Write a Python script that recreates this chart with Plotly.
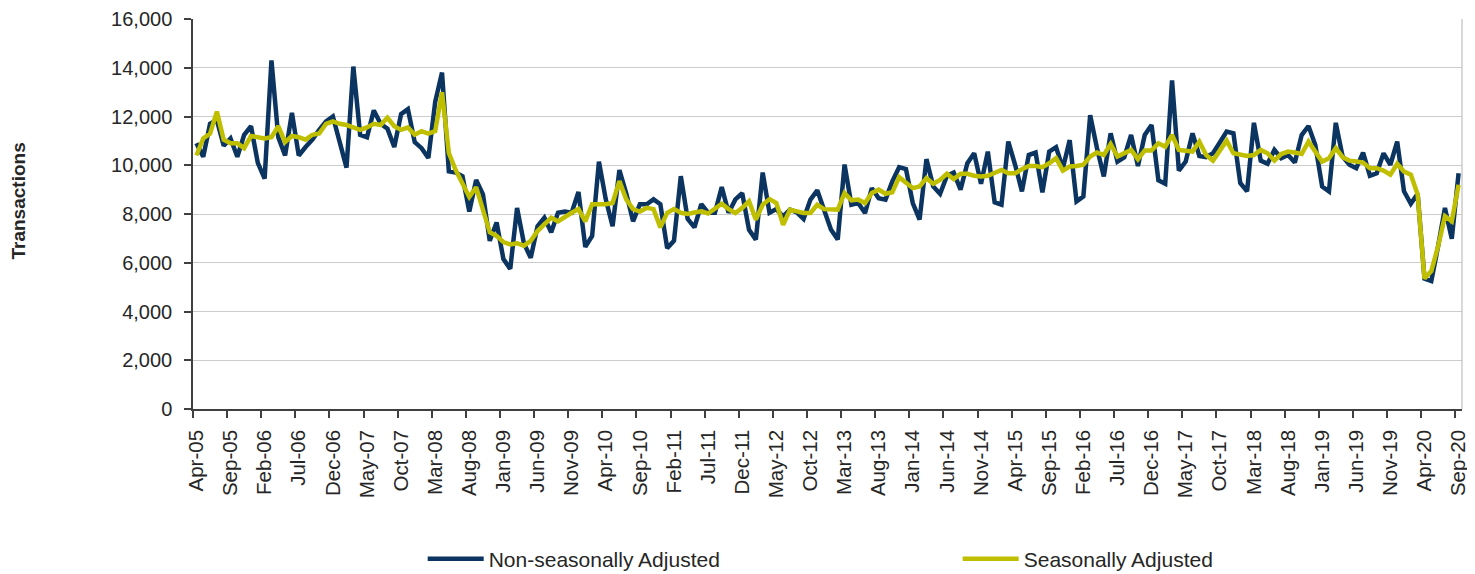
import pandas as pd
import plotly.graph_objects as go

# ---- data -------------------------------------------------------------
months = pd.date_range("2005-04-01", periods=186, freq="MS")
month_labels = [d.strftime("%b-%y") for d in months]

non_seasonally_adjusted = [
    10900, 10350, 11700, 11850, 10800, 11100, 10350, 11250, 11600, 10100,
    9450, 14300, 11150, 10400, 12150, 10400, 10750, 11050, 11450, 11800,
    12000, 10900, 9900, 14050, 11250, 11150, 12250, 11700, 11500, 10750,
    12100, 12300, 10950, 10700, 10300, 12600, 13800, 9750, 9700, 9550,
    8100, 9400, 8800, 6900, 7650, 6150, 5750, 8250, 6800, 6200,
    7500, 7850, 7250, 8050, 8100, 8050, 8900, 6650, 7100, 10150,
    8600, 7500, 9800, 8850, 7700, 8400, 8400, 8600, 8400, 6600,
    6900, 9550, 7800, 7450, 8400, 8050, 8050, 9100, 8050, 8600,
    8850, 7350, 6950, 9700, 8050, 8200, 7900, 8180, 8070, 7800,
    8590, 8970, 8180, 7360, 6950, 10030, 8380, 8450, 8040, 9060,
    8650, 8590, 9340, 9920, 9840, 8450, 7770, 10250, 9130, 8830,
    9560, 9700, 9000, 10080, 10490, 9240, 10560, 8480, 8380, 10970,
    10020, 8930, 10420, 10520, 8890, 10560, 10740, 9880, 11030, 8520,
    8720, 12050, 10700, 9540, 11310, 10150, 10330, 11240, 9970, 11240,
    11650, 9380, 9240, 13480, 9780, 10150, 11310, 10380, 10330, 10490,
    10930, 11380, 11310, 9270, 8930, 11740, 10190, 10060, 10630, 10290,
    10420, 10110, 11240, 11610, 10830, 9130, 8930, 11740, 10360, 10020,
    9880, 10520, 9570, 9670, 10490, 10020, 10970, 8930, 8420, 8830,
    5350, 5250, 6680, 8250, 6980, 9670,
]

seasonally_adjusted = [
    10400, 11100, 11300, 12200, 11050, 10900, 10900, 10700, 11200, 11150,
    11100, 11150, 11600, 10950, 11200, 11150, 11050, 11250, 11300, 11700,
    11800, 11700, 11650, 11550, 11450, 11550, 11700, 11650, 11950, 11600,
    11450, 11550, 11250, 11400, 11300, 11400, 13000, 10500, 9800, 9250,
    8700, 9100, 8200, 7250, 7100, 6850, 6750, 6800, 6700, 6900,
    7300, 7550, 7850, 7700, 7900, 8050, 8200, 7700, 8400, 8400,
    8400, 8450, 9350, 8600, 8200, 8100, 8250, 8200, 7450, 8050,
    8200, 8050, 8000, 8060, 8110, 8020, 8200, 8420, 8200, 8040,
    8250, 8520, 7770, 8380, 8610, 8450, 7560, 8180, 8110, 8040,
    8040, 8380, 8200, 8200, 8180, 8860, 8560, 8590, 8450, 8860,
    9000, 8830, 8890, 9510, 9290, 9060, 9130, 9470, 9240, 9400,
    9650, 9430, 9650, 9650, 9570, 9540, 9570, 9700, 9810, 9670,
    9670, 9840, 9970, 9970, 9920, 10080, 10290, 9780, 9950, 9970,
    10020, 10360, 10520, 10420, 10870, 10360, 10520, 10630, 10250, 10610,
    10610, 10900, 10760, 11240, 10630, 10610, 10560, 10970, 10420, 10190,
    10630, 11010, 10490, 10420, 10380, 10420, 10630, 10490, 10190, 10460,
    10560, 10520, 10460, 10970, 10560, 10150, 10290, 10700, 10330, 10190,
    10150, 10110, 9880, 9880, 9780, 9610, 10060, 9740, 9610, 8800,
    5350, 5660, 6680, 7910, 7700, 9200,
]

y_ticks = [0, 2000, 4000, 6000, 8000, 10000, 12000, 14000, 16000]

# ---- figure -----------------------------------------------------------
idx = list(range(len(month_labels)))
label_idx = idx[::5]

NAVY = "#0B3461"
OLIVE = "#BFBF00"
TEXT = "#262626"
FONT = "Liberation Sans, Arial, sans-serif"

fig = go.Figure()
fig.add_trace(go.Scatter(
    x=idx, y=non_seasonally_adjusted, mode="lines",
    name="Non-seasonally Adjusted",
    line=dict(color=NAVY, width=4.5),
))
fig.add_trace(go.Scatter(
    x=idx, y=seasonally_adjusted, mode="lines",
    name="Seasonally Adjusted",
    line=dict(color=OLIVE, width=4.5),
))

# the page body has an 8px margin, so the figure is sized to fill the rest
fig.update_layout(
    width=1467, height=566,
    margin=dict(l=185, r=13, t=11, b=165, autoexpand=False),
    paper_bgcolor="white", plot_bgcolor="white",
    font=dict(family=FONT, color=TEXT, size=20),
    showlegend=True,
    legend=dict(
        orientation="h", x=0.181, xanchor="left", y=-0.385, yanchor="middle",
        font=dict(size=21, color=TEXT), entrywidth=464, entrywidthmode="pixels",
        bgcolor="rgba(0,0,0,0)", itemwidth=56,
    ),
    xaxis=dict(
        range=[-0.5, len(idx) - 0.5],
        tickmode="array", tickvals=label_idx,
        ticktext=[month_labels[i] for i in label_idx],
        tickangle=-90, tickfont=dict(size=20.5, color=TEXT),
        ticks="outside", ticklen=7, tickcolor="rgba(0,0,0,0)",
        ticklabelstandoff=4,
        minor=dict(tickmode="linear", tick0=-0.5, dtick=5, ticks="outside",
                   ticklen=7, tickcolor="#404040", tickwidth=1.5, showgrid=False),
        showgrid=False, zeroline=False,
        showline=True, linecolor="#404040", linewidth=1.5,
    ),
    yaxis=dict(
        range=[0, 16000], tickmode="array", tickvals=y_ticks,
        tickformat=",", tickfont=dict(size=20, color=TEXT),
        ticks="outside", ticklen=7, tickcolor="#404040", tickwidth=1.5,
        ticklabelstandoff=8,
        showgrid=True, gridcolor="#CCCCCC", gridwidth=1.2,
        zeroline=False, showline=True, linecolor="#404040", linewidth=1.5,
    ),
    shapes=[dict(type="line", xref="paper", yref="paper", x0=1, x1=1, y0=0, y1=1,
                 line=dict(color="#BFBFBF", width=1.2))],
    annotations=[dict(
        text="<b>Transactions</b>", xref="paper", yref="paper",
        x=0, y=0.5, xanchor="center", yanchor="middle", xshift=-175.5, yshift=13,
        textangle=-90, showarrow=False, font=dict(size=19, color=TEXT),
    )],
)

fig.write_html("out.html")
